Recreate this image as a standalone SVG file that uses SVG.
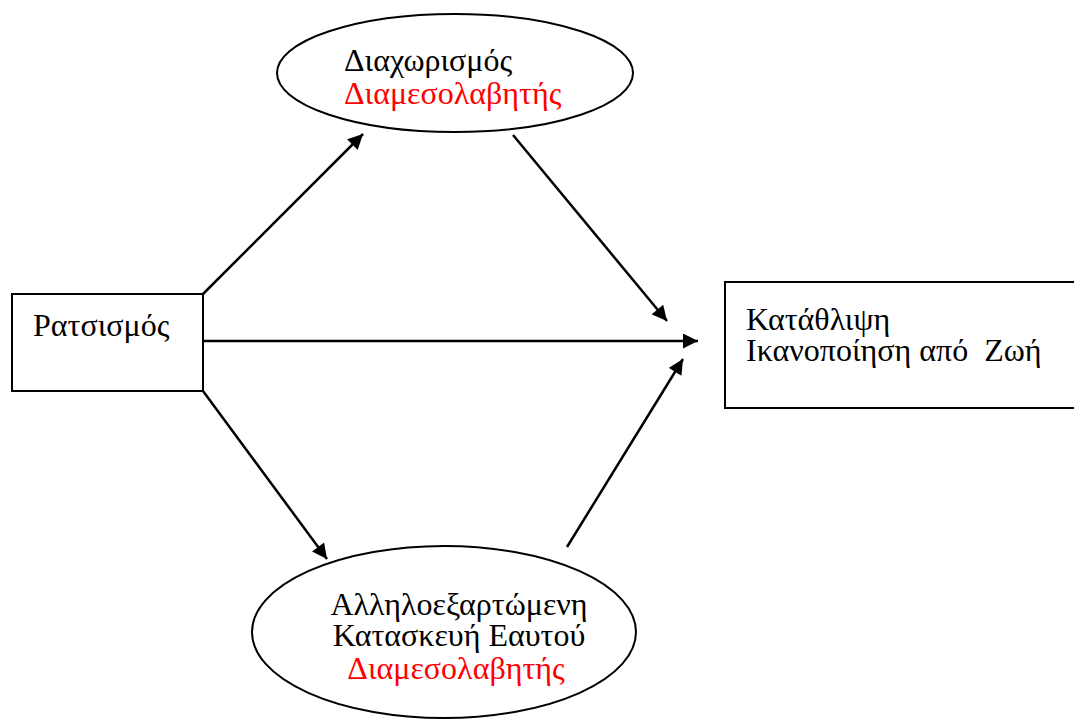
<svg xmlns="http://www.w3.org/2000/svg" width="1074" height="719" viewBox="0 0 1074 719">
  <style>
    .shape { fill: #ffffff; stroke: #000000; stroke-width: 2; }
    .label { font-family: "Liberation Serif", "Times New Roman", serif; font-size: 32px; fill: #000000; }
    .mediator { fill: #ff0000; }
    .edge { stroke: #000000; stroke-width: 2.5; fill: none; marker-end: url(#arrow); }
  </style>
  <defs>
    <marker id="arrow" viewBox="0 0 10 10" refX="10" refY="5" markerWidth="6.5" markerHeight="6" markerUnits="strokeWidth" orient="auto">
      <path d="M0,0 L10,5 L0,10 z" fill="#000000"/>
    </marker>
  </defs>

  <rect width="1074" height="719" fill="#ffffff"/>

  <g id="connectors">
    <line class="edge" x1="203" y1="294" x2="363" y2="134"/>
    <line class="edge" x1="513" y1="135" x2="667" y2="321"/>
    <line class="edge" x1="203" y1="341" x2="698" y2="341"/>
    <line class="edge" x1="567" y1="547" x2="683" y2="359"/>
    <line class="edge" x1="203" y1="391" x2="327" y2="559"/>
  </g>

  <g id="node-racism">
    <rect class="shape" x="12" y="294" width="191" height="97"/>
    <text class="label" x="33" y="336">Ρατσισμός</text>
  </g>

  <g id="node-discrimination">
    <ellipse class="shape" cx="455" cy="73" rx="178" ry="59"/>
    <text class="label" x="344" y="71">Διαχωρισμός</text>
    <text class="label mediator" x="344" y="104">Διαμεσολαβητής</text>
  </g>

  <g id="node-outcome">
    <rect class="shape" x="725" y="282" width="360" height="126"/>
    <text class="label" x="746" y="330">Κατάθλιψη</text>
    <text class="label" x="746" y="361" xml:space="preserve">Ικανοποίηση από  Ζωή</text>
  </g>

  <g id="node-self-construal">
    <ellipse class="shape" cx="444" cy="632" rx="192" ry="86"/>
    <text class="label" x="459" y="615" text-anchor="middle">Αλληλοεξαρτώμενη</text>
    <text class="label" x="459" y="646" text-anchor="middle">Κατασκευή Εαυτού</text>
    <text class="label mediator" x="456" y="679" text-anchor="middle">Διαμεσολαβητής</text>
  </g>
</svg>
